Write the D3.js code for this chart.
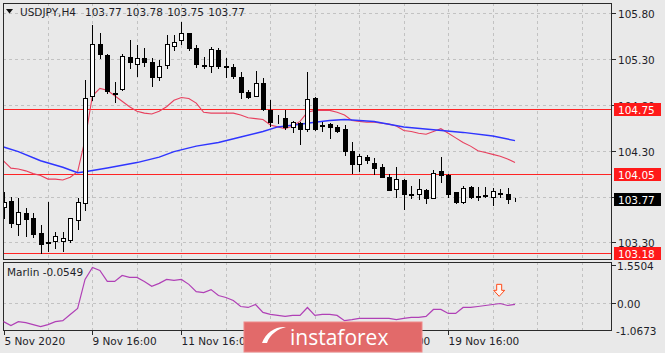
<!DOCTYPE html>
<html>
<head>
<meta charset="utf-8">
<script src="https://d3js.org/d3.v7.min.js"></script>
<style>
  body { margin: 0; background: #e9e9e9; }
  text { font-family: "DejaVu Sans", sans-serif; font-size: 10.5px; fill: #1e1e28; }
</style>
</head>
<body>
<div id="chart"></div>
<script>
// quote header
var symbol = "USDJPY,H4";
var lastQuote = "103.77 103.78 103.75 103.77";

// H4 candles
var open = [103.69,103.75,103.50,103.62,103.57,103.40,103.30,103.31,103.31,103.32,
            103.54,103.73,104.90,105.46,105.35,104.92,104.97,105.32,105.25,105.31,
            105.27,105.10,105.24,105.44,105.51,105.58,105.42,105.24,105.22,105.40,
            105.22,105.21,105.11,104.94,104.90,105.04,104.74,104.64,104.66,104.56,
            104.60,104.54,104.87,104.58,104.59,104.56,104.54,104.30,104.16,104.23,
            104.17,104.12,104.01,103.88,103.98,103.83,103.83,103.87,103.78,104.08,
            104.04,103.85,103.74,103.90,103.80,103.81,103.80,103.83,103.83,103.77];
var high = [103.85,103.79,103.78,103.67,103.62,103.49,103.74,103.41,103.41,103.56,
            103.78,105.07,105.67,105.59,105.36,105.05,105.36,105.51,105.45,105.42,
            105.31,105.29,105.56,105.56,105.70,105.59,105.45,105.32,105.43,105.42,
            105.31,105.25,105.16,104.96,105.17,105.09,104.85,104.69,104.74,104.62,
            104.61,105.16,104.89,104.61,104.60,104.58,104.58,104.39,104.26,104.25,
            104.22,104.16,104.05,104.12,103.99,103.91,103.99,103.88,104.09,104.23,
            104.05,103.85,103.92,103.92,103.90,103.90,103.89,103.88,103.89,103.78];
var low  = [103.57,103.47,103.38,103.37,103.36,103.18,103.20,103.24,103.20,103.30,
            103.45,103.65,104.85,105.31,104.93,104.83,104.96,105.20,105.12,105.23,
            105.01,105.07,105.20,105.40,105.46,105.40,105.21,105.20,105.16,105.20,
            105.10,105.09,104.88,104.88,104.90,104.74,104.57,104.60,104.54,104.50,
            104.37,104.52,104.53,104.52,104.44,104.50,104.25,104.06,104.08,104.17,
            104.05,104.01,103.87,103.80,103.66,103.78,103.77,103.73,103.78,103.96,
            103.80,103.73,103.73,103.78,103.76,103.79,103.71,103.80,103.73,103.75];
var close = [103.74,103.51,103.63,103.55,103.39,103.28,103.29,103.37,103.35,103.56,
            103.74,104.88,105.47,105.36,104.95,104.93,105.33,105.27,105.31,105.27,
            105.10,105.23,105.46,105.49,105.59,105.42,105.25,105.22,105.41,105.22,
            105.21,105.12,104.94,104.89,105.04,104.76,104.61,104.63,104.56,104.61,
            104.54,104.86,104.54,104.57,104.56,104.52,104.30,104.15,104.24,104.20,
            104.11,104.01,103.87,103.99,103.83,103.82,103.88,103.78,104.06,104.04,
            103.83,103.74,103.89,103.79,103.81,103.82,103.86,103.84,103.77,103.77];

// moving averages
var maFast = [104.19,104.11,104.10,104.08,104.05,104.03,103.99,103.99,103.98,104.01,
              104.07,104.42,104.90,104.98,104.96,104.90,104.84,104.78,104.73,104.71,
              104.70,104.73,104.78,104.85,104.88,104.87,104.82,104.72,104.71,104.71,
              104.71,104.71,104.69,104.66,104.65,104.64,104.58,104.56,104.54,104.57,
              104.62,104.72,104.74,104.74,104.74,104.72,104.69,104.63,104.62,104.61,
              104.61,104.60,104.59,104.57,104.52,104.51,104.49,104.48,104.51,104.54,
              104.49,104.44,104.39,104.35,104.30,104.28,104.26,104.24,104.21,104.17];
var maSlow = [[0,104.34],[2,104.29],[5,104.19],[8,104.12],[10,104.06],[11,104.07],
              [14,104.11],[18,104.17],[21,104.23],[23,104.29],[26,104.35],[29,104.39],
              [32,104.45],[35,104.51],[37,104.56],[40,104.59],[42,104.61],[44,104.63],
              [46,104.64],[50,104.62],[54,104.56],[58,104.53],[62,104.50],[66,104.46],
              [69,104.41]];

// Marlin oscillator
var marlin = [-0.75,-0.91,-0.75,-0.79,-0.87,-0.95,-0.87,-0.75,-0.71,-0.46,
              -0.22,0.95,1.43,1.31,0.87,0.87,1.11,1.03,1.03,0.87,
              0.67,0.79,0.95,0.91,0.95,0.75,0.46,0.42,0.54,0.30,
              0.22,0.10,-0.14,-0.18,-0.06,-0.38,-0.46,-0.50,-0.54,-0.50,
              -0.50,-0.18,-0.50,-0.46,-0.46,-0.50,-0.71,-0.67,-0.62,-0.62,
              -0.62,-0.62,-0.62,-0.67,-0.62,-0.58,-0.58,-0.54,-0.26,-0.26,
              -0.42,-0.42,-0.18,-0.18,-0.14,-0.10,-0.06,-0.02,-0.10,-0.0549];
var marlinName = "Marlin -0.0549";
var marlinTicks = [1.5504, 0, -1.0673];
var marlinArrowAt = [67, 0.55];

// axes
var priceTicks = [105.80, 105.30, 104.80, 104.30, 103.80, 103.30];
var levels = [104.75, 104.05, 103.18];
var lastPrice = 103.77;
var timeIdx = [0, 12, 24, 36, 48, 60];
var timeText = ["5 Nov 2020", "9 Nov 16:00", "11 Nov 16:00", "13 Nov 16:00", "17 Nov 16:00", "19 Nov 16:00"];

var W = 665, H = 353;
var plotL = 3, plotR = 612, mainT = 3, mainB = 259, indT = 262, indB = 331;
var banner = { x: 244, y: 322, w: 178, h: 30 };

var svg = d3.select("#chart").append("svg")
    .attr("width", W).attr("height", H);

svg.append("rect").attr("width", W).attr("height", H).attr("fill", "#e9e9e9");

var x = d3.scaleLinear().domain([0, 69]).range([3.5, 515]);
var y = d3.scaleLinear().domain([103.30, 105.80]).range([242.3, 13.3]);
var yi = d3.scaleLinear().domain([-1.0673, 1.5504]).range([329.5, 264.5]);

var defs = svg.append("defs");
defs.append("clipPath").attr("id", "clipMain").append("rect")
    .attr("x", plotL).attr("y", mainT).attr("width", plotR - plotL).attr("height", mainB - mainT);
defs.append("clipPath").attr("id", "clipInd").append("rect")
    .attr("x", plotL).attr("y", indT).attr("width", plotR - plotL).attr("height", indB - indT);

// grid
var grid = svg.append("g").attr("stroke", "#c2c2c2").attr("stroke-dasharray", "3,3");
priceTicks.forEach(function(v) {
    var yy = Math.round(y(v)) + 0.5;
    grid.append("line").attr("x1", plotL).attr("x2", plotR).attr("y1", yy).attr("y2", yy);
});
grid.append("line").attr("x1", plotL).attr("x2", plotR)
    .attr("y1", Math.round(yi(0)) + 0.5).attr("y2", Math.round(yi(0)) + 0.5);
d3.range(6, 84, 6).forEach(function(i) {
    var xx = Math.round(x(i)) + 0.5;
    if (xx > plotR) return;
    grid.append("line").attr("x1", xx).attr("x2", xx).attr("y1", mainT).attr("y2", mainB);
    grid.append("line").attr("x1", xx).attr("x2", xx).attr("y1", indT).attr("y2", indB);
});

// level lines
var main = svg.append("g").attr("clip-path", "url(#clipMain)");
levels.forEach(function(v) {
    var yy = Math.round(y(v)) + 0.5;
    main.append("line").attr("x1", plotL).attr("x2", plotR).attr("y1", yy).attr("y2", yy)
        .attr("stroke", "#ff2424").attr("stroke-width", 1);
});

// moving averages
var lineFast = d3.line().x(function(d, i) { return x(i); }).y(function(d) { return y(d); });
main.append("path").datum(maFast).attr("d", lineFast)
    .attr("fill", "none").attr("stroke", "#e8405e").attr("stroke-width", 1.1);
var lineSlow = d3.line().x(function(d) { return x(d[0]); }).y(function(d) { return y(d[1]); });
main.append("path").datum(maSlow).attr("d", lineSlow)
    .attr("fill", "none").attr("stroke", "#2f35ff").attr("stroke-width", 1.5);

// candles
var candles = d3.range(open.length).map(function(i) {
    return { i: i, o: open[i], h: high[i], l: low[i], c: close[i] };
});
var cg = main.append("g").selectAll("g").data(candles).enter().append("g");
cg.append("line")
    .attr("x1", function(d) { return Math.round(x(d.i)) + 0.5; })
    .attr("x2", function(d) { return Math.round(x(d.i)) + 0.5; })
    .attr("y1", function(d) { return Math.round(y(d.h)); })
    .attr("y2", function(d) { return Math.round(y(d.l)) + 1; })
    .attr("stroke", "#000");
cg.append("rect")
    .attr("x", function(d) { return Math.round(x(d.i)) - 1.5; })
    .attr("y", function(d) { return Math.round(y(Math.max(d.o, d.c))) + 0.5; })
    .attr("width", 4)
    .attr("height", function(d) {
        return Math.max(Math.round(y(Math.min(d.o, d.c))) - Math.round(y(Math.max(d.o, d.c))), 0);
    })
    .attr("fill", function(d) { return d.c >= d.o ? "#fff" : "#000"; })
    .attr("stroke", "#000");

// panel borders
svg.append("rect").attr("x", plotL + 0.5).attr("y", mainT + 0.5)
    .attr("width", plotR - plotL - 1).attr("height", mainB - mainT)
    .attr("fill", "none").attr("stroke", "#2a2a2a");
svg.append("rect").attr("x", plotL + 0.5).attr("y", indT + 0.5)
    .attr("width", plotR - plotL - 1).attr("height", indB - indT - 1)
    .attr("fill", "none").attr("stroke", "#2a2a2a");

// right price axis; a label fully under a price box is not drawn
var boxed = levels.concat([lastPrice]);
priceTicks.forEach(function(v) {
    var yy = Math.round(y(v)) + 0.5;
    svg.append("line").attr("x1", plotR).attr("x2", plotR + 4).attr("y1", yy).attr("y2", yy).attr("stroke", "#2a2a2a");
    var hidden = boxed.some(function(b) { return Math.abs(y(b) - y(v)) < 3; });
    if (!hidden) svg.append("text").attr("x", 618).attr("y", yy + 4).text(v.toFixed(2));
});
function priceBox(v, fill) {
    var yy = Math.round(y(v)) + 0.5;
    svg.append("rect").attr("x", 614).attr("y", yy - 6.5).attr("width", 47).attr("height", 13).attr("fill", fill);
    svg.append("text").attr("x", 618).attr("y", yy + 4).style("fill", "#fff").text(v.toFixed(2));
}
levels.forEach(function(v) { priceBox(v, "#ff1a1a"); });
priceBox(lastPrice, "#000");

// header
svg.append("path").attr("d", "M6,9L13,9L9.5,13.5Z").attr("fill", "#111");
svg.append("text").attr("x", 20).attr("y", 16).text(symbol);
svg.append("text").attr("x", 85).attr("y", 16).attr("word-spacing", "1px").text(lastQuote);

// indicator
var ind = svg.append("g").attr("clip-path", "url(#clipInd)");
ind.append("path").datum(marlin)
    .attr("d", d3.line().x(function(d, i) { return x(i); }).y(function(d) { return yi(d); }))
    .attr("fill", "none").attr("stroke", "#b040b6").attr("stroke-width", 1.2);
var ax = x(marlinArrowAt[0]) - 1, ay = yi(marlinArrowAt[1]);
ind.append("path")
    .attr("d", "M" + (ax - 2.5) + "," + (ay - 5) + "h5v6h3l-5.5,6l-5.5,-6h3z")
    .attr("fill", "#fff5f0").attr("stroke", "#ff4a1a").attr("stroke-width", 1);
svg.append("text").attr("x", 7).attr("y", 276).text(marlinName);
marlinTicks.forEach(function(v, k) {
    var yy = Math.round(yi(v)) + 0.5;
    if (k < 2) svg.append("line").attr("x1", plotR).attr("x2", plotR + 4).attr("y1", yy).attr("y2", yy).attr("stroke", "#2a2a2a");
    svg.append("text").attr("x", v < 0 ? 616 : 617).attr("y", yy + 4)
        .text(v === 0 ? "0.00" : v.toFixed(4));
});

// time axis; a label wholly behind the watermark is not drawn
timeIdx.forEach(function(i, k) {
    var xx = Math.round(x(i)) + 0.5;
    svg.append("line").attr("x1", xx).attr("x2", xx).attr("y1", indB).attr("y2", indB + 4).attr("stroke", "#2a2a2a");
    var hidden = xx > banner.x && xx + 68 < banner.x + banner.w;
    if (!hidden) svg.append("text").attr("x", Math.max(xx, 3)).attr("y", 345).text(timeText[k]);
});

// watermark banner
var ban = svg.append("g");
ban.append("rect").attr("x", banner.x).attr("y", banner.y).attr("width", banner.w).attr("height", banner.h)
    .attr("fill", "#e26a6a").attr("stroke", "#f08a8a");
ban.append("path")
    .attr("d", "M262,343 C266,332 276,326 286,327 C278,329 270,334 267,343 Z")
    .attr("fill", "#fff");
ban.append("text").attr("x", 290).attr("y", 345)
    .style("fill", "#fff").style("font-size", "21px").style("font-family", "'Open Sans', sans-serif")
    .text("instaforex");
</script>
</body>
</html>
